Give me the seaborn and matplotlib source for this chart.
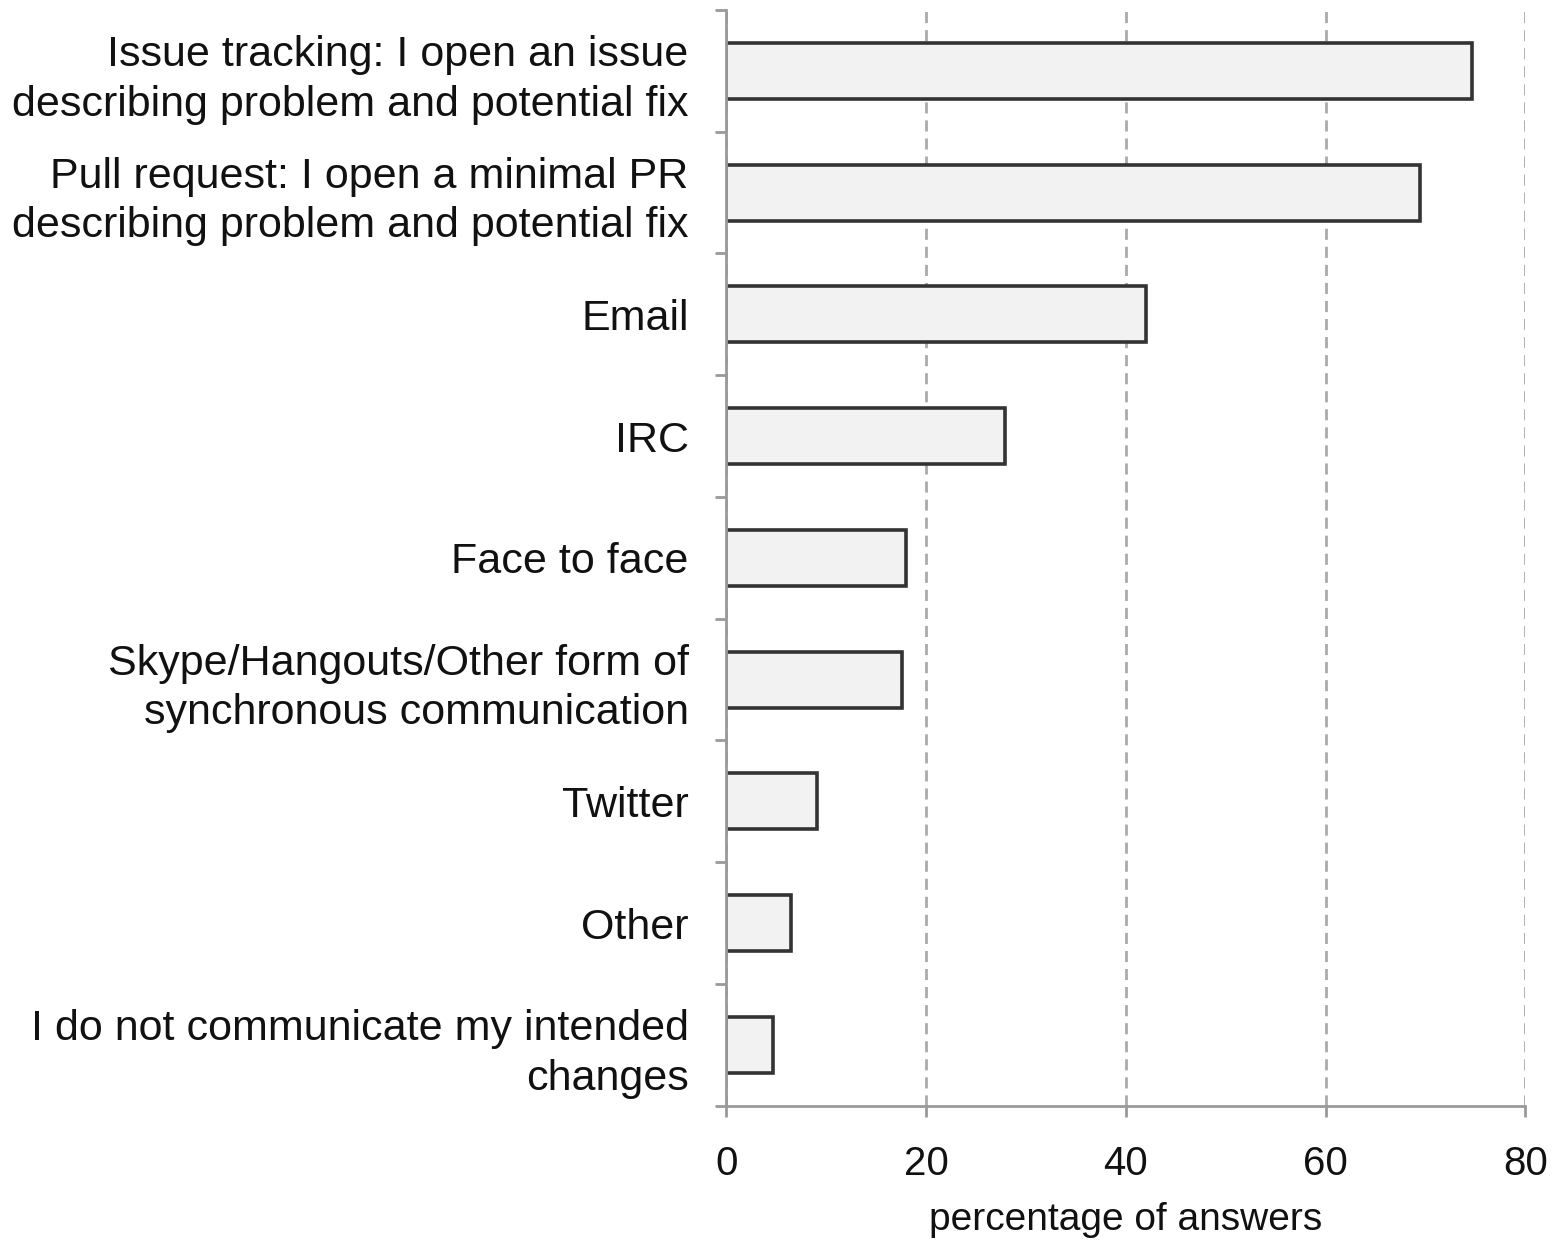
import matplotlib
matplotlib.use("Agg")
from matplotlib import pyplot as plt
import seaborn as sns
import pandas as pd
import numpy as np

# data
channels = [
    "Issue tracking: I open an issue\ndescribing problem and potential fix",
    "Pull request: I open a minimal PR\ndescribing problem and potential fix",
    "Email",
    "IRC",
    "Face to face",
    "Skype/Hangouts/Other form of\nsynchronous communication",
    "Twitter",
    "Other",
    "I do not communicate my intended\nchanges",
]
percent = [74.6, 69.4, 42.0, 27.9, 18.0, 17.6, 9.1, 6.5, 4.7]
xticks = [0, 20, 40, 60, 80]

df = pd.DataFrame({"channel": channels, "percent": percent})

sns.set_style("white")
plt.rcParams["font.family"] = ["Liberation Sans", "DejaVu Sans"]
plt.rcParams["text.color"] = "#111111"
plt.rcParams["xtick.color"] = "#999999"
plt.rcParams["ytick.color"] = "#999999"
plt.rcParams["xtick.labelcolor"] = "#111111"
plt.rcParams["ytick.labelcolor"] = "#111111"
plt.rcParams["axes.labelcolor"] = "#111111"

fig = plt.figure(figsize=(15.55, 12.41), dpi=100)
ax = fig.add_axes([0.467, 0.109, 0.514, 0.883])

g = sns.barplot(data=df, y="channel", x="percent", orient="h", order=channels,
                color="#f2f2f2", saturation=1, width=0.46,
                edgecolor="#333333", linewidth=2.6, ax=ax)

ax.set_xlim(0, 80)
ax.set_ylim(len(channels) - 0.5, -0.5)
ax.set_xticks(xticks)
ax.set_xticklabels([str(v) for v in xticks], fontsize=29)

# labels on minor ticks, short marks on category boundaries
ax.set_yticks(np.arange(len(channels) + 1) - 0.5)
ax.set_yticklabels([])
ax.set_yticks(np.arange(len(channels)), minor=True)
ax.set_yticklabels(channels, minor=True, fontsize=31, ha="right", linespacing=1.3)
ax.tick_params(axis="y", which="minor", left=False, length=0, pad=27)
ax.tick_params(axis="y", which="major", left=True, length=8, width=2, direction="out")
ax.tick_params(axis="x", bottom=True, length=8, width=2, direction="out", pad=20)

ax.xaxis.grid(True, linestyle=(0, (4, 2.5)), color="#aaaaaa", linewidth=2)
ax.set_axisbelow(True)

for s in ["top", "right"]:
    ax.spines[s].set_visible(False)
for s in ["left", "bottom"]:
    ax.spines[s].set_color("#999999")
    ax.spines[s].set_linewidth(2)

ax.set_ylabel("")
ax.set_xlabel("percentage of answers", fontsize=28, labelpad=14)

plt.savefig("out.png", dpi=100, facecolor="white")
